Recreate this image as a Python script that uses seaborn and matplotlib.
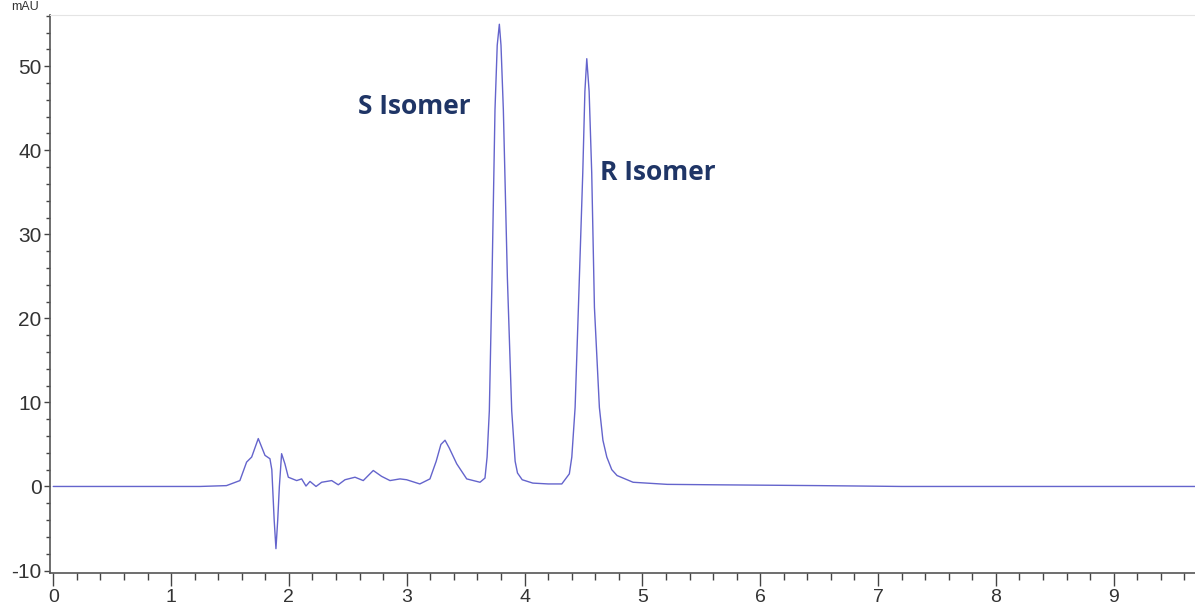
import matplotlib
matplotlib.use("Agg")
import matplotlib.pyplot as plt
from matplotlib.ticker import MultipleLocator
import seaborn as sns
import pandas as pd

# retention time (min) and detector signal
time_min = [0.0, 0.6, 1.245, 1.47, 1.584, 1.641, 1.684, 1.74, 1.797, 1.839, 1.855,
            1.875, 1.89, 1.905, 1.919, 1.938, 1.966, 1.995, 2.066, 2.108, 2.145,
            2.179, 2.23, 2.278, 2.363, 2.419, 2.476, 2.561, 2.631, 2.716, 2.787,
            2.858, 2.943, 2.999, 3.111, 3.197, 3.25, 3.29, 3.325, 3.36, 3.424,
            3.509, 3.622, 3.664, 3.682, 3.701, 3.724, 3.749, 3.768, 3.786, 3.80,
            3.82, 3.854, 3.891, 3.92, 3.94, 3.98, 4.07, 4.2, 4.316, 4.38, 4.401,
            4.429, 4.457, 4.494, 4.512, 4.528, 4.548, 4.570, 4.593, 4.635, 4.665,
            4.698, 4.74, 4.785, 4.921, 5.21, 5.6, 6.5, 7.2, 9.7]
signal = [0.0, 0.0, 0.0, 0.1, 0.7, 2.9, 3.5, 5.7, 3.7, 3.3, 2.0,
          -4.0, -7.4, -4.0, 0.0, 3.9, 2.7, 1.1, 0.7, 0.9, 0.05,
          0.6, 0.0, 0.5, 0.7, 0.2, 0.8, 1.1, 0.7, 1.9, 1.2,
          0.7, 0.9, 0.8, 0.3, 0.9, 3.0, 5.0, 5.5, 4.6, 2.7,
          0.9, 0.5, 1.0, 3.5, 9.0, 24.9, 44.8, 52.5, 55.0, 52.5,
          44.8, 24.9, 9.0, 3.0, 1.6, 0.8, 0.4, 0.3, 0.3, 1.5, 3.5,
          9.4, 21.3, 37.3, 47.0, 50.9, 47.0, 37.3, 21.3, 9.4, 5.5,
          3.5, 2.0, 1.3, 0.5, 0.25, 0.2, 0.1, 0.0, 0.0]

peak_names = ["S Isomer", "R Isomer"]
label_x = [2.59, 4.64]
label_y = [45.2, 37.4]

x_ticks = [0, 1, 2, 3, 4, 5, 6, 7, 8, 9]
y_ticks = [-10, 0, 10, 20, 30, 40, 50]

df = pd.DataFrame({"time": time_min, "signal": signal})

sns.set_style("white")
plt.rcParams["font.family"] = ["Liberation Sans", "DejaVu Sans"]
plt.rcParams["axes.unicode_minus"] = False

fig = plt.figure(figsize=(11.95, 6.12), dpi=100)
ax = fig.add_axes([0.0418, 0.063, 0.9582, 0.9125])

sns.lineplot(data=df, x="time", y="signal", estimator=None, color="#6464cc",
             linewidth=1.0, ax=ax)

for name, tx, ty in zip(peak_names, label_x, label_y):
    ax.text(tx, ty, name, fontsize=19, fontweight="bold", color="#1f3566",
            family=["Open Sans", "DejaVu Sans"], va="center", ha="left")

ax.set_xlim(-0.028, 9.69)
ax.set_ylim(-10.35, 56.1)
ax.set_xticks(x_ticks)
ax.set_yticks(y_ticks)
ax.xaxis.set_minor_locator(MultipleLocator(0.2))
ax.yaxis.set_minor_locator(MultipleLocator(2))
ax.set_xlabel("")
ax.set_ylabel("")

ax.tick_params(axis="both", which="both", bottom=True, left=True)
ax.tick_params(axis="both", which="major", direction="out", length=8,
               width=1, color="#444444", labelsize=15, labelcolor="#333333")
ax.tick_params(axis="both", which="minor", direction="out", length=4,
               width=1, color="#444444")
ax.tick_params(axis="x", which="major", length=9, pad=2, labelsize=14)
ax.tick_params(axis="x", which="minor", length=5)
ax.tick_params(axis="y", which="major", length=4, pad=2)
ax.tick_params(axis="y", which="minor", length=3)

for side in ["left", "bottom"]:
    ax.spines[side].set_color("#555555")
    ax.spines[side].set_linewidth(1.2)
ax.spines["top"].set_color("#e4e4e4")
ax.spines["right"].set_visible(False)

fig.text(0.009, 0.998, "mAU", fontsize=9, color="#333333", va="top", ha="left")

fig.savefig("out.png", dpi=100)
